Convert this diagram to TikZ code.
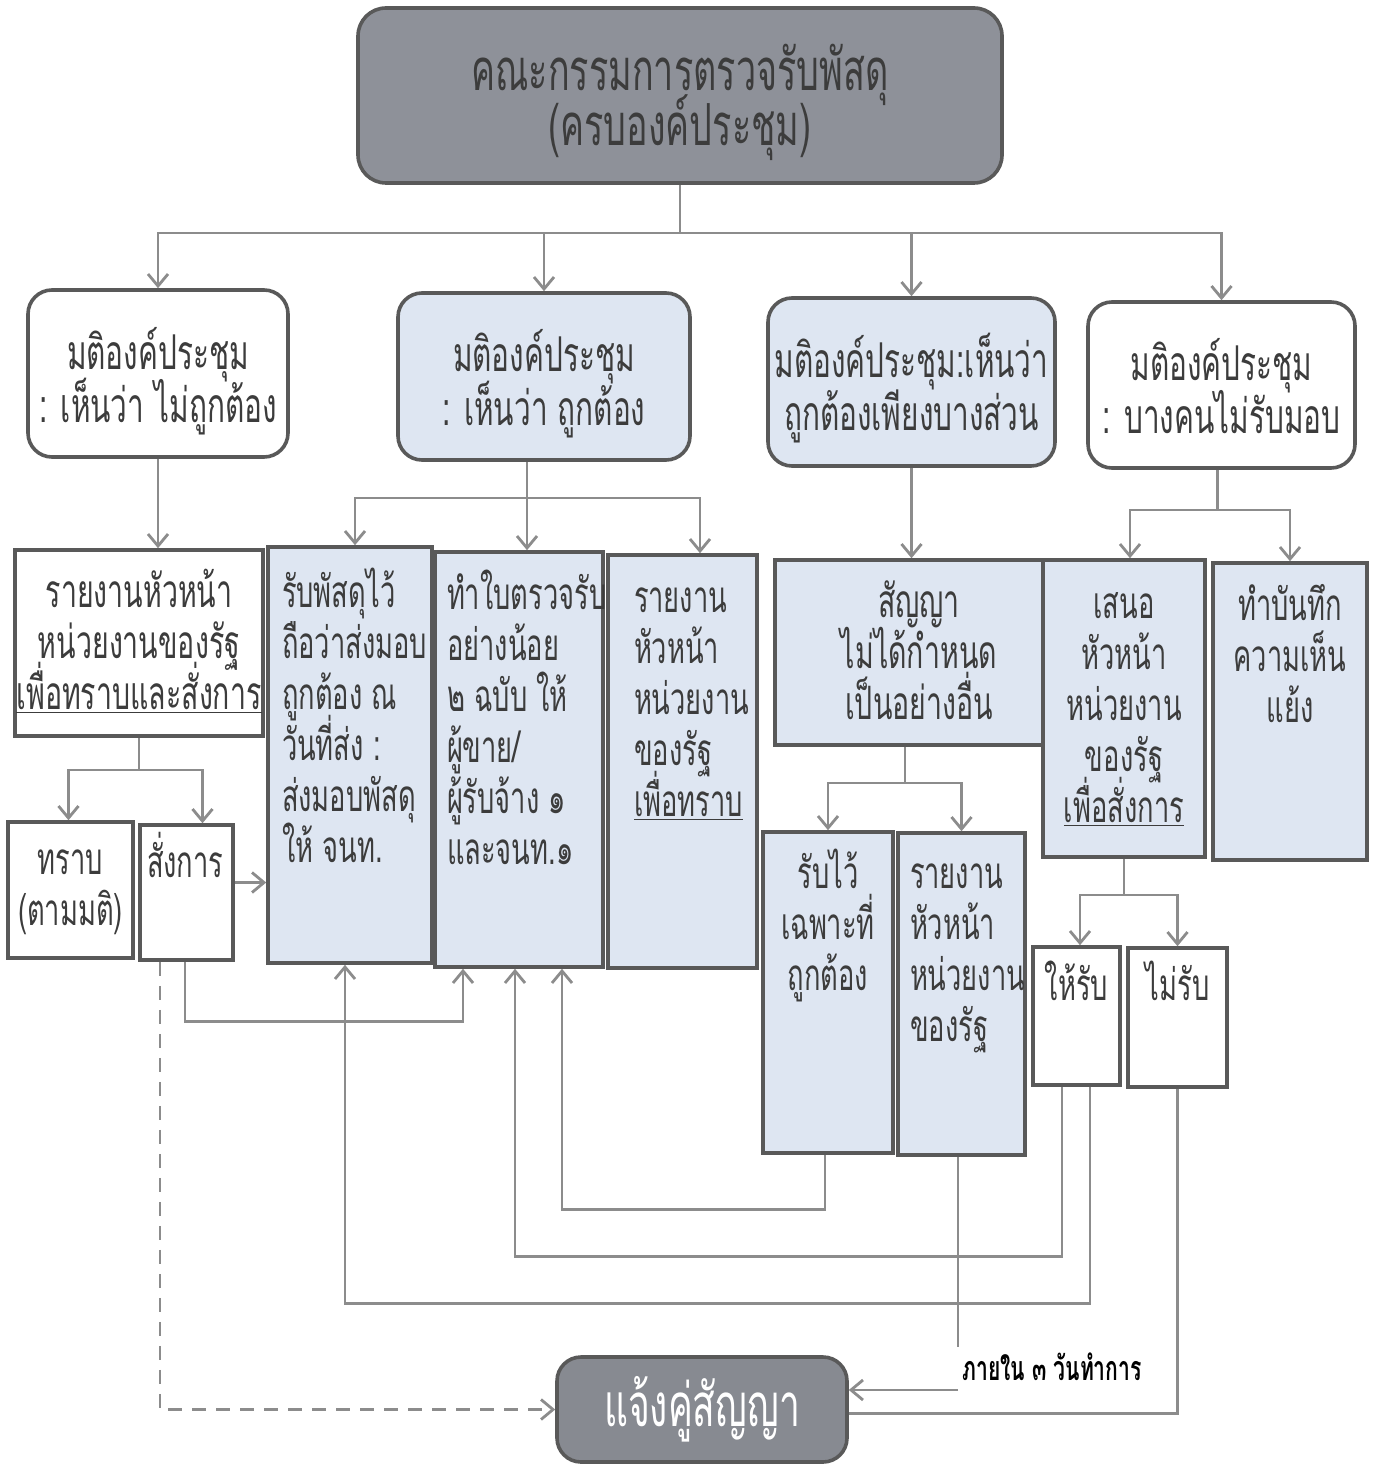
\documentclass[tikz,border=0pt]{standalone}
\usepackage{fontspec}
\newfontfamily\thai[Script=Thai,FakeStretch=0.62]{Loma}
\usetikzlibrary{arrows.meta}
\definecolor{bord}{HTML}{595959}
\definecolor{lgray}{HTML}{8C8C8C}
\definecolor{lblue}{HTML}{DEE6F2}
\definecolor{dgray}{HTML}{8E9199}
\definecolor{txt}{HTML}{3C3C3C}
\newcommand\nolsk{\lineskiplimit=-100pt\relax}
\newcommand\tbx[4]{\parbox[c][#2][t]{#1}{\nolsk\vspace*{#3}\hbox{}#4}}
\tikzset{
  bx/.style={draw=bord, line width=1.8pt, inner sep=0pt, text=txt, font=\thai\fontsize{22}{25.5}\selectfont},
  bbox/.style={bx, fill=lblue},
  wbox/.style={bx, fill=white},
  rbx/.style={bx, rounded corners=12pt, font=\thai\fontsize{24}{26.5}\selectfont},
  conn/.style={draw=lgray, line width=1.4pt},
  arr/.style={conn, -{Straight Barb[length=6pt,width=10pt]}},
  lbl/.style={inner sep=0pt, text=black, font=\thai\bfseries\fontsize{17}{20}\selectfont},
}
\begin{document}
\begin{tikzpicture}[x=0.5pt,y=-0.5pt]
\useasboundingbox[fill=white] (0,0) rectangle (1377,1470);
% top
\node[rbx, fill=dgray, text=txt, rounded corners=14pt, font=\thai\fontsize{29}{27.5}\selectfont] (top) at (680,95.5)
  {\tbx{322pt}{87.5pt}{14pt}{\centering คณะกรรมการตรวจรับพัสดุ\\(ครบองค์ประชุม)\par}};
% row 2
\node[rbx, fill=white] (A) at (158,373.5) {\tbx{130pt}{83.5pt}{13pt}{\centering มติองค์ประชุม\\: เห็นว่า ไม่ถูกต้อง\par}};
\node[rbx, fill=lblue] (B) at (544,376.5) {\tbx{146pt}{83.5pt}{13pt}{\centering มติองค์ประชุม\\: เห็นว่า ถูกต้อง\par}};
\node[rbx, fill=lblue] (C) at (911.5,382) {\tbx{143.5pt}{84pt}{13pt}{\centering มติองค์ประชุม:เห็นว่า\\ถูกต้องเพียงบางส่วน\par}};
\node[rbx, fill=white] (D) at (1221.5,385) {\tbx{133.5pt}{83pt}{13pt}{\centering มติองค์ประชุม\\: บางคนไม่รับมอบ\par}};
% branch A
\node[wbox] (AR) at (139,643) {\tbx{124pt}{93pt}{3pt}{\fontsize{23}{25.5}\selectfont\centering รายงานหัวหน้า\\หน่วยงานของรัฐ\\\underline{เพื่อทราบและสั่งการ}\par}};
\node[wbox] (A1) at (70.5,890) {\tbx{62.5pt}{68pt}{0.5pt}{\centering ทราบ\\(ตามมติ)\par}};
\node[wbox] (A2) at (186.5,892.5) {\tbx{46.5pt}{67.5pt}{0.5pt}{\leftskip=3.5pt สั่งการ\par}};
% branch B
\node[bbox] (B1) at (350,755) {\tbx{82pt}{208pt}{4.5pt}{\leftskip=7pt รับพัสดุไว้\\ถือว่าส่งมอบ\\ถูกต้อง ณ\\วันที่ส่ง :\\ส่งมอบพัสดุ\\ให้ จนท.\par}};
\node[bbox] (B2) at (519,759.5) {\tbx{84pt}{207.5pt}{3pt}{\leftskip=6pt ทำใบตรวจรับ\\อย่างน้อย\\๒ ฉบับ ให้\\ผู้ขาย/\\ผู้รับจ้าง ๑\\และจนท.๑\par}};
\node[bbox] (B3) at (682.5,761.5) {\tbx{74.5pt}{206.5pt}{3pt}{\leftskip=13pt รายงาน\\หัวหน้า\\หน่วยงาน\\ของรัฐ\\\underline{เพื่อทราบ}\par}};
% branch C
\node[bbox] (C1) at (919,652.5) {\tbx{144pt}{92.5pt}{3pt}{\fontsize{23}{25.5}\selectfont\centering สัญญา\\ไม่ได้กำหนด\\เป็นอย่างอื่น\par}};
\node[bbox] (C2) at (828,992.5) {\tbx{65pt}{160.5pt}{2.5pt}{\centering รับไว้\\เฉพาะที่\\ถูกต้อง\par}};
\node[bbox] (C3) at (961.5,994) {\tbx{63.5pt}{161pt}{2pt}{\leftskip=6pt รายงาน\\หัวหน้า\\หน่วยงาน\\ของรัฐ\par}};
% branch D
\node[bbox] (D1) at (1124,708.5) {\tbx{81pt}{148.5pt}{3.5pt}{\centering เสนอ\\หัวหน้า\\หน่วยงาน\\ของรัฐ\\\underline{เพื่อสั่งการ}\par}};
\node[bbox] (D2) at (1290,711.5) {\tbx{77pt}{148.5pt}{3pt}{\centering ทำบันทึก\\ความเห็น\\แย้ง\par}};
\node[wbox] (D3) at (1076.5,1016) {\tbx{43.5pt}{69pt}{1pt}{\centering ให้รับ\par}};
\node[wbox] (D4) at (1177.5,1017.5) {\tbx{49.5pt}{69.5pt}{0.5pt}{\centering ไม่รับ\par}};
% bottom
\node[rbx, fill=dgray!95!black, text=white, minimum width=145pt, minimum height=52.5pt, rounded corners=12pt,
  font=\thai\fontsize{30}{30}\selectfont] (E) at (702,1409.5) {แจ้งคู่สัญญา};
% connectors
\draw[conn] (top.south) -- (680,233) coordinate (j0);
\foreach \n in {A,B,C,D} \draw[arr] (j0) -| (\n.north);
\draw[arr] (A.south) -- (A.south |- AR.north);
\draw[conn] (AR.south) -- (139,770) coordinate (j1);
\draw[arr] (j1) -| ([xshift=-1pt]A1.north);
\draw[arr] (j1) -| ([xshift=8pt]A2.north);
\draw[arr] ([yshift=5pt]A2.east) -- ([yshift=5pt]A2.east -| B1.west);
\draw[conn] ([xshift=-8.5pt]B.south) -- (527,498) coordinate (j2);
\draw[arr] (j2) -| ([xshift=2.5pt]B1.north);
\draw[arr] (j2) -- (j2 |- B2.north);
\draw[arr] (j2) -| ([xshift=8.75pt]B3.north);
\draw[arr] (C.south) -- (C.south |- C1.north);
\draw[conn] ([xshift=-7pt]C1.south) -- (905,783) coordinate (j3);
\draw[arr] (j3) -| (C2.north);
\draw[arr] (j3) -| (C3.north);
\draw[conn] ([xshift=-2pt]D.south) -- (1217.5,510) coordinate (j4);
\draw[arr] (j4) -| ([xshift=3pt]D1.north);
\draw[arr] (j4) -| (D2.north);
\draw[conn] (D1.south) -- (1124,895) coordinate (j5);
\draw[arr] (j5) -| ([xshift=1.75pt]D3.north);
\draw[arr] (j5) -| (D4.north);
% bottom connectors
\draw[arr, dash pattern=on 7pt off 5pt] ([xshift=-13.25pt]A2.south) |- (E.west);
\draw[arr] ([xshift=-0.75pt]A2.south) -- ++(0,60) -| ([xshift=-28pt]B2.south);
\draw[arr] ([xshift=-1.5pt]C2.south) -- ++(0,55) -| ([xshift=21.5pt]B2.south);
\draw[arr] ([xshift=-7.25pt]D3.south) -- ++(0,170) -| ([xshift=-2pt]B2.south);
\draw[arr] ([xshift=6.75pt]D3.south) -- ++(0,217) -| ([xshift=-2.5pt]B1.south);
\draw[conn] ([xshift=-1.75pt]C3.south) -- ++(0,190) coordinate (c3e);
\node[lbl] (L) at (1052,1367) {ภายใน ๓ วันทำการ};
\coordinate (c3s) at (958,1390);
\draw[arr] (c3s) -- (c3s -| E.east);
\draw[conn] (D4.south) |- ([yshift=-2pt]E.east);
\end{tikzpicture}
\end{document}
